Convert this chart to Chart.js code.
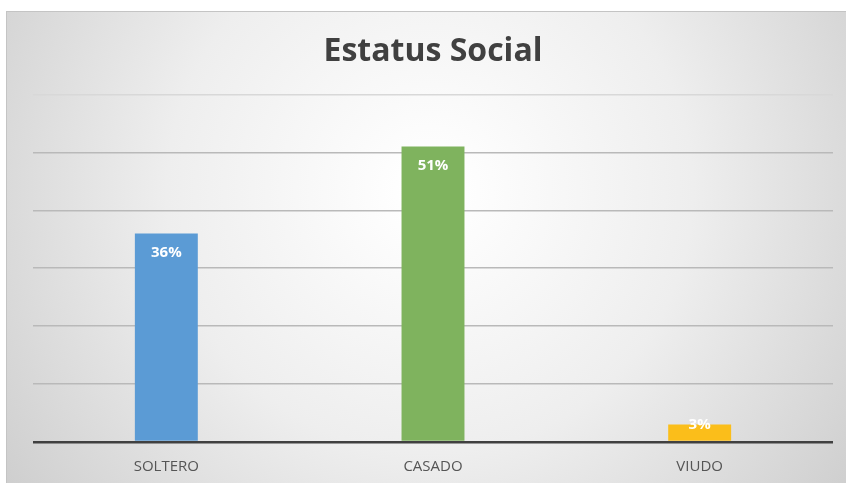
<!DOCTYPE html>
<html>
<head>
<meta charset="utf-8">
<script src="https://cdn.jsdelivr.net/npm/chart.js@4/dist/chart.umd.min.js"></script>
<style>
    html, body { margin: 0; padding: 0; background: #fff; }
    #wrap { width: 846px; height: 483px; }
</style>
</head>
<body>
<div id="wrap"><canvas id="estatusChart"></canvas></div>
<script>
//Estatus Social (column chart)

const categories = ["SOLTERO", "CASADO", "VIUDO"];
const percentages = [36, 51, 3];
const barColors = ["#5B9BD5", "#7FB35E", "#FBBE1A"];
const yTicks = [0, 10, 20, 30, 40, 50, 60];

// grey frame with the soft radial shading behind everything
const frameBackground = {
    id: "frameBackground",
    beforeDraw(chart) {
        const c = chart.ctx;
        const w = chart.width, h = chart.height;
        c.save();
        c.fillStyle = "#fff";
        c.fillRect(0, 0, w, h);
        const g = c.createRadialGradient(430, 190, 20, 430, 190, 560);
        g.addColorStop(0, "#ffffff");
        g.addColorStop(0.45, "#eeeeee");
        g.addColorStop(1, "#c9c9c9");
        c.fillStyle = g;
        c.fillRect(6, 11, w - 6, h - 11);
        c.strokeStyle = "#c4c4c4";
        c.lineWidth = 1;
        c.strokeRect(6.5, 11.5, w, h);
        c.restore();
    }
};

// white percentage labels at the top of each column
const barLabels = {
    id: "barLabels",
    afterDatasetsDraw(chart) {
        const c = chart.ctx;
        const meta = chart.getDatasetMeta(0);
        c.save();
        c.font = "bold 15px 'Open Sans'";
        c.fillStyle = "#ffffff";
        c.textAlign = "center";
        c.textBaseline = "middle";
        meta.data.forEach((bar, i) => {
            const tall = bar.base - bar.y > 30;
            const y = tall ? bar.y + 19 : bar.y;
            c.fillText(percentages[i] + "%", bar.x, y);
        });
        c.restore();
    }
};

const ctx = document.getElementById("estatusChart");

new Chart(ctx, {
    type: "bar",
    data: {
        labels: categories,
        datasets: [{
            label: "Estatus Social",
            data: percentages,
            backgroundColor: barColors,
            borderWidth: 0,
            categoryPercentage: 1,
            barPercentage: 0.236
        }]
    },
    options: {
        responsive: true,
        maintainAspectRatio: false,
        animation: false,
        layout: {
            padding: { top: 11, left: 33, right: 13, bottom: -9 }
        },
        plugins: {
            legend: { display: false },
            tooltip: { enabled: false },
            title: {
                display: true,
                text: "Estatus Social",
                color: "#404040",
                font: { family: "'Open Sans'", size: 32, weight: "bold", lineHeight: 1.2 },
                padding: { top: 22, bottom: 23 }
            }
        },
        scales: {
            x: {
                grid: { display: false, drawTicks: false },
                border: { display: false },
                ticks: {
                    color: "#555555",
                    padding: 16,
                    font: { family: "'Liberation Sans Narrow', 'Open Sans'", size: 15 }
                }
            },
            y: {
                min: yTicks[0],
                max: yTicks[yTicks.length - 1],
                afterBuildTicks: axis => { axis.ticks = yTicks.map(v => ({ value: v })); },
                ticks: { display: false },
                border: { display: false },
                grid: {
                    drawTicks: false,
                    color: c => c.tick.value === 0 ? "#404040" : (c.tick.value === 60 ? "#d8d8d8" : "#b9b9b9"),
                    lineWidth: c => c.tick.value === 0 ? 2.5 : 1.5
                }
            }
        }
    },
    plugins: [frameBackground, barLabels]
});
</script>
</body>
</html>
